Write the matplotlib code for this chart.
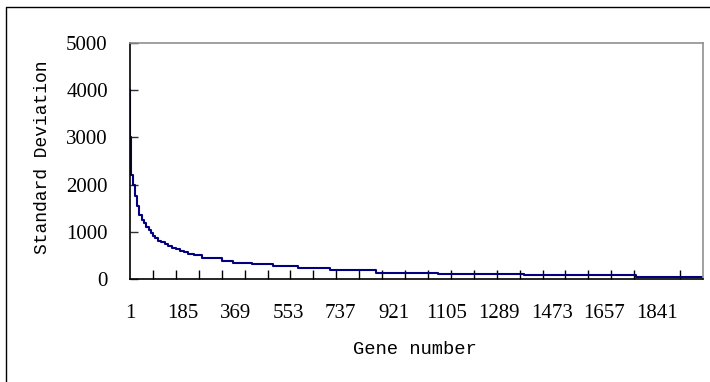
import matplotlib
matplotlib.use('Agg')
from matplotlib import pyplot as plt
from matplotlib.lines import Line2D
import numpy

# step start (gene index) and standard deviation value
step_gene = [1, 2, 3, 5, 11, 19, 24, 32, 42, 50, 58, 66, 73, 81, 90, 99,
             110, 122, 134, 147, 160, 174, 188, 203, 225, 251, 321, 360,
             426, 499, 586, 698, 860, 1075, 1375, 1768, 2001]
step_sd = [4000, 3000, 2500, 2200, 2000, 1750, 1550, 1350, 1250, 1180, 1100,
           1040, 970, 920, 860, 810, 780, 740, 700, 660, 630, 600, 570, 540,
           505, 440, 390, 345, 310, 275, 233, 185, 134, 106, 75, 35, 35]

x_labels = [1, 185, 369, 553, 737, 921, 1105, 1289, 1473, 1657, 1841]
y_ticks = [0, 1000, 2000, 3000, 4000, 5000]

num_font = 'Liberation Serif'
lab_font = 'Liberation Mono'

fig = plt.figure(figsize=(7.1, 3.82), dpi=100)
ax = fig.add_axes([130 / 710, 1 - 279 / 382, 573 / 710, 236 / 382])

ax.step(step_gene, step_sd, where='post', color='#000080', lw=1.5, zorder=2)

ax.set_xlim(1, 2001)
ax.set_ylim(0, 5000)

ax.set_xticks(x_labels)
ax.set_xticklabels([str(v) for v in x_labels], fontfamily=num_font, fontsize=15)
ax.set_xticks(numpy.arange(81, 2001, 80), minor=True)
ax.tick_params(axis='x', which='major', length=0, pad=18)
ax.tick_params(axis='x', which='minor', direction='in', length=6.5, width=1, color='black')

ax.set_yticks(y_ticks)
ax.set_yticklabels([str(v) for v in y_ticks], fontfamily=num_font, fontsize=15)
ax.tick_params(axis='y', direction='in', length=6, width=1, color='#303030', pad=16)

for side in ['left', 'bottom']:
    ax.spines[side].set_color('black')
    ax.spines[side].set_linewidth(1.2)
for side in ['top', 'right']:
    ax.spines[side].set_color('#909090')
    ax.spines[side].set_linewidth(1.2)

fig.text(415 / 710, 1 - 350 / 382, 'Gene number', fontfamily=lab_font,
         fontsize=13.5, ha='center', va='center')
fig.text(43 / 710, 1 - 157 / 382, 'Standard Deviation', fontfamily=lab_font,
         fontsize=13, ha='center', va='center', rotation=90)

# outer chart border (left and top edges visible)
fig.add_artist(Line2D([6 / 710, 6 / 710, 1.0], [0.0, 1 - 7 / 382, 1 - 7 / 382],
                      transform=fig.transFigure, color='black', lw=1))

fig.savefig('out.png', dpi=100)
plt.close()
